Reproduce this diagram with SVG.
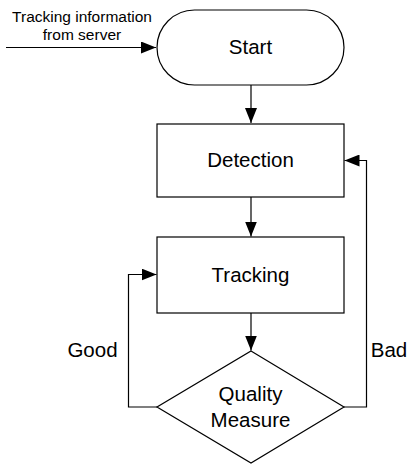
<svg xmlns="http://www.w3.org/2000/svg" width="411" height="466" viewBox="0 0 411 466">
<style>
.shape{fill:#fff;stroke:#000;stroke-width:1.2}
.conn{fill:none;stroke:#000;stroke-width:1.2}
.lbl{font-family:"Liberation Sans",Arial,sans-serif;font-size:20.5px;fill:#000;text-anchor:middle}
.small{font-family:"Liberation Sans",Arial,sans-serif;font-size:15.5px;fill:#000;text-anchor:middle}
</style>
<defs>
<marker id="arr" markerUnits="userSpaceOnUse" markerWidth="16" markerHeight="12" refX="15" refY="6" orient="auto">
<path d="M0,0 L15,6 L0,12 z" fill="#000"/>
</marker>
</defs>
<g id="connectors">
<path class="conn" d="M6,47.5 H156" marker-end="url(#arr)"/>
<path class="conn" d="M251,85 V123" marker-end="url(#arr)"/>
<path class="conn" d="M251,197 V236.5" marker-end="url(#arr)"/>
<path class="conn" d="M251,313 V350.5" marker-end="url(#arr)"/>
<path class="conn" d="M157,407 H128.5 V274.5 H156.5" marker-end="url(#arr)"/>
<path class="conn" d="M344,407 H366.5 V160.5 H344.5" marker-end="url(#arr)"/>
</g>
<g id="input-label">
<text class="small" x="82" y="21.5">Tracking information</text>
<text class="small" x="82" y="39.5">from server</text>
</g>
<g id="start">
<rect class="shape" x="157" y="10" width="187" height="75" rx="37.5" ry="37.5"/>
<text class="lbl" x="250.5" y="54">Start</text>
</g>
<g id="detection">
<rect class="shape" x="157" y="124" width="187" height="73"/>
<text class="lbl" x="250.5" y="167">Detection</text>
</g>
<g id="tracking">
<rect class="shape" x="157" y="237" width="187" height="76"/>
<text class="lbl" x="250.5" y="282">Tracking</text>
</g>
<g id="quality">
<polygon class="shape" points="251,351 344,407 251,463 157,407"/>
<text class="lbl" x="250.5" y="401">Quality</text>
<text class="lbl" x="250.5" y="426.5">Measure</text>
</g>
<g id="labels">
<text class="lbl" x="92.5" y="357">Good</text>
<text class="lbl" x="389" y="357">Bad</text>
</g>
</svg>
